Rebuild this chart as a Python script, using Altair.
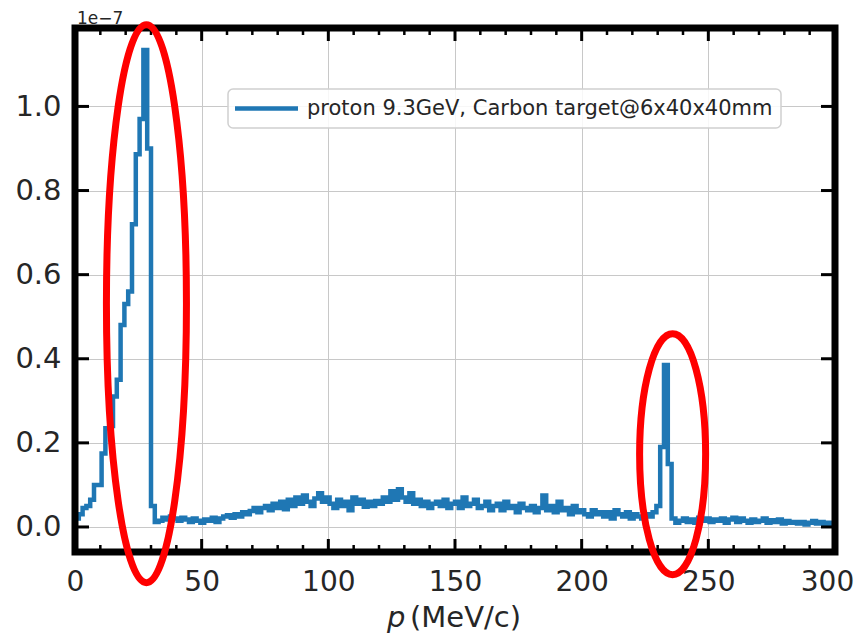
import altair as alt
import pandas as pd

# ---------------- data (values in units of 1e-7) ----------------
BIN_WIDTH = 1.5
X_RANGE = [0, 300]
Y_RANGE = [-0.0595, 1.1865]

counts = [
    0.020, 0.030, 0.045, 0.050, 0.065, 0.100, 0.100, 0.175, 0.235, 0.240,   # 0-15
    0.310, 0.350, 0.480, 0.530, 0.560, 0.720, 0.886, 0.970, 1.134, 0.900,   # 15-30
    0.050, 0.012, 0.015, 0.022, 0.018, 0.025, 0.020, 0.015, 0.022, 0.018,   # 30-45
    0.012, 0.020, 0.015, 0.010, 0.018, 0.015, 0.022, 0.012, 0.020, 0.025,   # 45-60
    0.028, 0.022, 0.030, 0.025, 0.035, 0.030, 0.038, 0.045, 0.035, 0.045,   # 60-75
    0.050, 0.040, 0.055, 0.045, 0.060, 0.042, 0.065, 0.050, 0.070, 0.055,   # 75-90
    0.075, 0.060, 0.050, 0.068, 0.080, 0.060, 0.070, 0.055, 0.045, 0.065,   # 90-105
    0.050, 0.060, 0.040, 0.070, 0.055, 0.065, 0.048, 0.060, 0.050, 0.062,   # 105-120
    0.055, 0.070, 0.060, 0.085, 0.065, 0.090, 0.070, 0.060, 0.080, 0.055,   # 120-135
    0.065, 0.050, 0.060, 0.045, 0.055, 0.060, 0.050, 0.065, 0.045, 0.055,   # 135-150
    0.060, 0.045, 0.070, 0.050, 0.055, 0.065, 0.045, 0.050, 0.060, 0.040,   # 150-165
    0.050, 0.055, 0.040, 0.060, 0.045, 0.050, 0.035, 0.055, 0.045, 0.040,   # 165-180
    0.050, 0.035, 0.045, 0.075, 0.040, 0.050, 0.035, 0.060, 0.040, 0.045,   # 180-195
    0.030, 0.050, 0.035, 0.040, 0.030, 0.025, 0.040, 0.030, 0.035, 0.025,   # 195-210
    0.035, 0.020, 0.040, 0.030, 0.025, 0.035, 0.020, 0.030, 0.025, 0.020,   # 210-225
    0.030, 0.025, 0.035, 0.050, 0.190, 0.385, 0.150, 0.020, 0.010, 0.015,   # 225-240
    0.020, 0.012, 0.018, 0.010, 0.022, 0.015, 0.020, 0.012, 0.018, 0.015,   # 240-255
    0.020, 0.010, 0.018, 0.022, 0.012, 0.020, 0.015, 0.010, 0.018, 0.012,   # 255-270
    0.015, 0.020, 0.010, 0.016, 0.012, 0.018, 0.008, 0.014, 0.010, 0.012,   # 270-285
    0.008, 0.012, 0.006, 0.010, 0.014, 0.008, 0.012, 0.006, 0.010, 0.005,   # 285-300
]

x_major = [0, 50, 100, 150, 200, 250, 300]
x_minor = [10, 20, 30, 40, 60, 70, 80, 90, 110, 120, 130, 140, 160, 170, 180, 190,
           210, 220, 230, 240, 260, 270, 280, 290]
y_major = [0.0, 0.2, 0.4, 0.6, 0.8, 1.0]

legend_label = "proton 9.3GeV, Carbon target@6x40x40mm"
exponent_label = "1e\u22127"

# annotation ellipses: centre (data units)
ellipse_centers_x = [28.2, 235.9]
ellipse_centers_y = [0.531, 0.173]

# ---------------- build tables ----------------
edges = [i * BIN_WIDTH for i in range(len(counts))]
hist = pd.DataFrame({
    "x": [X_RANGE[0]] + edges + [X_RANGE[1]],
    "y": [0.0] + counts + [0.0],
})
hist["order"] = range(len(hist))

W, H = 760, 524
FONT = "DejaVu Sans"
one = pd.DataFrame({"a": [0]})

x_scale = alt.Scale(domain=X_RANGE, nice=False, zero=False)
y_scale = alt.Scale(domain=Y_RANGE, nice=False, zero=False)

x_axis = alt.Axis(
    values=x_major, format="d", title=None, grid=True, ticks=False, domain=False,
    labelFontSize=28, labelPadding=16, labelColor="#262626", labelFont=FONT,
    labelFlush=False, labelOverlap=False, labelBound=False,
    labelOffset=alt.condition("datum.value == 300", alt.value(-8), alt.value(0)),
    gridColor="#c8c8c8", gridWidth=1)
y_axis = alt.Axis(
    values=y_major, format=".1f", title=None, grid=True, ticks=False, domain=False,
    labelFontSize=29, labelPadding=14, labelColor="#262626", labelFont=FONT,
    labelFlush=False, labelOverlap=False, labelBound=False,
    gridColor="#c8c8c8", gridWidth=1)

X = lambda: alt.X("x:Q", scale=x_scale, axis=x_axis)
Y = lambda: alt.Y("y:Q", scale=y_scale, axis=y_axis)

line = alt.Chart(hist).mark_line(
    interpolate="step-after", color="#1f77b4", strokeWidth=4.5
).encode(x=X(), y=Y(), order="order:Q")

xt_major = pd.DataFrame({"x": x_major})
xt_minor = pd.DataFrame({"x": x_minor})
yt_major = pd.DataFrame({"y": y_major})

def xticks(df, length, width):
    bottom = alt.Chart(df).mark_rule(color="black", strokeWidth=width).encode(
        x=X(), y=alt.value(H), y2=alt.value(H - length))
    top = alt.Chart(df).mark_rule(color="black", strokeWidth=width).encode(
        x=X(), y=alt.value(0), y2=alt.value(length))
    return [bottom, top]

def yticks(df, length, width):
    left = alt.Chart(df).mark_rule(color="black", strokeWidth=width).encode(
        y=Y(), x=alt.value(0), x2=alt.value(length))
    right = alt.Chart(df).mark_rule(color="black", strokeWidth=width).encode(
        y=Y(), x=alt.value(W), x2=alt.value(W - length))
    return [left, right]

ticks = xticks(xt_major, 13, 3) + xticks(xt_minor, 7, 2.5) + yticks(yt_major, 14, 3)

frame = alt.Chart(one).mark_rect(
    fillOpacity=0, stroke="black", strokeWidth=7
).encode(x=alt.value(0), x2=alt.value(W), y=alt.value(0), y2=alt.value(H))

# legend
leg_box = alt.Chart(one).mark_rect(
    fill="white", fillOpacity=0.85, stroke="#d0d0d0", strokeWidth=1.5, cornerRadius=5
).encode(x=alt.value(153), x2=alt.value(706), y=alt.value(61), y2=alt.value(100))
leg_line = alt.Chart(one).mark_rule(color="#1f77b4", strokeWidth=4.5).encode(
    x=alt.value(160), x2=alt.value(223), y=alt.value(80.5))
leg_text = alt.Chart(pd.DataFrame({"t": [legend_label]})).mark_text(
    align="left", baseline="middle", fontSize=21, font=FONT, color="#262626"
).encode(x=alt.value(232), y=alt.value(80.5), text="t:N")

# exponent & axis title
expo = alt.Chart(pd.DataFrame({"t": [exponent_label]})).mark_text(
    align="left", baseline="alphabetic", fontSize=17, font=FONT, color="#262626"
).encode(x=alt.value(2), y=alt.value(-4), text="t:N")
xtitle_p = alt.Chart(pd.DataFrame({"t": ["p"]})).mark_text(
    align="left", baseline="alphabetic", fontSize=29, font=FONT, fontStyle="italic",
    color="#262626").encode(x=alt.value(312), y=alt.value(599), text="t:N")
xtitle_u = alt.Chart(pd.DataFrame({"t": ["(MeV/c)"]})).mark_text(
    align="left", baseline="alphabetic", fontSize=29, font=FONT, color="#262626"
).encode(x=alt.value(335), y=alt.value(599), text="t:N")

# red ellipses (cubic Bezier approximation, unit box)
def ellipse_path(a):
    k = 0.5523
    ka = k * a
    return (f"M 0 -1 C {ka:.4f} -1 {a:.4f} -{k} {a:.4f} 0 "
            f"C {a:.4f} {k} {ka:.4f} 1 0 1 "
            f"C -{ka:.4f} 1 -{a:.4f} {k} -{a:.4f} 0 "
            f"C -{a:.4f} -{k} -{ka:.4f} -1 0 -1 Z")

ell_specs = [(40 / 279, 558), (33 / 120.5, 241)]
ellipses = []
for i, (ratio, side) in enumerate(ell_specs):
    d = pd.DataFrame({"x": [ellipse_centers_x[i]], "y": [ellipse_centers_y[i]]})
    ellipses.append(alt.Chart(d).mark_point(
        shape=ellipse_path(ratio), filled=False, stroke="#ff0000", strokeWidth=7, opacity=1
    ).encode(x=X(), y=Y(), size=alt.value(side * side)))

chart = alt.layer(
    line, *ticks, leg_box, leg_line, leg_text, frame, expo, xtitle_p, xtitle_u, *ellipses
).properties(
    width=W, height=H,
    padding={"left": 67, "top": 20, "right": 21, "bottom": 82},
    autosize=alt.AutoSizeParams(type="none"),
).configure_view(strokeWidth=0).configure(font=FONT, background="white")

chart.save("out.html", embed_options={"renderer": "svg", "actions": False})
